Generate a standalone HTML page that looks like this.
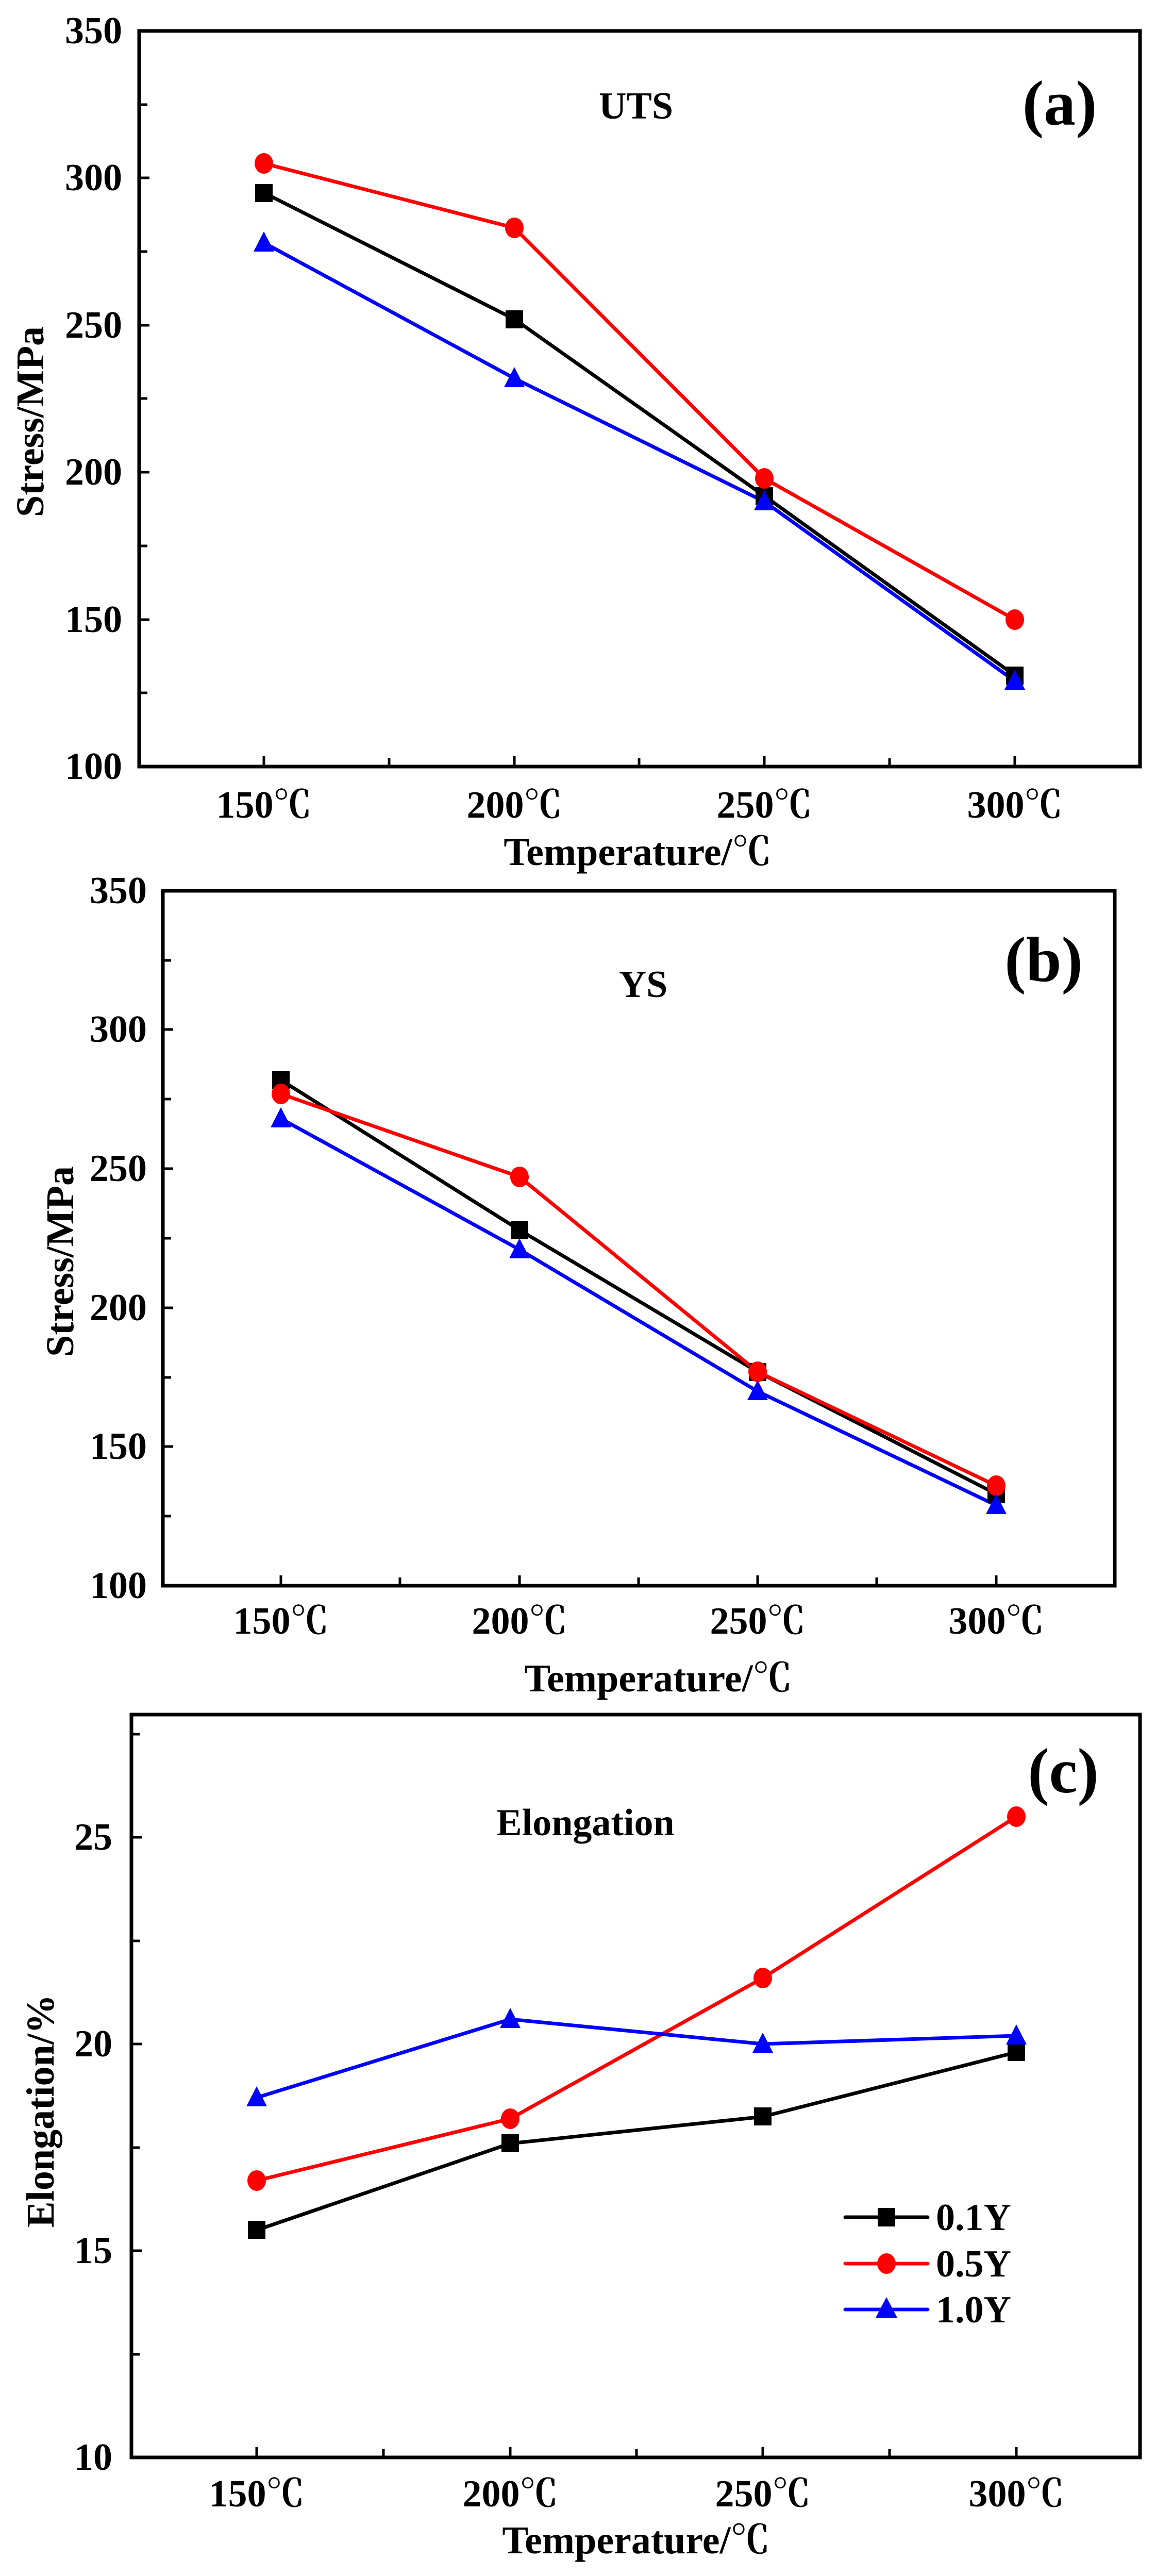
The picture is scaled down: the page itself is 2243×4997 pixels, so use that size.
<!DOCTYPE html>
<html><head><meta charset="utf-8"><style>
html,body{margin:0;padding:0;background:#fff}
svg{display:block}
text{font-family:"Liberation Serif","Noto Serif CJK SC",serif;font-weight:bold;fill:#000}
.t{font-size:74px}
.l{font-size:76px}
.p{font-size:124px}
</style></head><body>
<svg width="2243" height="4997" viewBox="0 0 2243 4997" xmlns="http://www.w3.org/2000/svg">
<!-- Panel (a) -->
<g>
<polyline points="512,374 998,619 1483,962 1969,1310" fill="none" stroke="#000" stroke-width="7"/>
<polyline points="512,317 998,442 1483,928 1969,1202" fill="none" stroke="#f00" stroke-width="7"/>
<polyline points="512,471 998,734 1483,973 1969,1321" fill="none" stroke="#00f" stroke-width="7"/>
<g fill="#000"><rect x="495" y="357" width="34" height="35"/><rect x="981" y="602" width="34" height="35"/><rect x="1466" y="945" width="34" height="35"/><rect x="1952" y="1293" width="34" height="35"/></g>
<g fill="#f00"><ellipse cx="512" cy="317" rx="18" ry="20"/><ellipse cx="998" cy="442" rx="18" ry="20"/><ellipse cx="1483" cy="928" rx="18" ry="20"/><ellipse cx="1969" cy="1202" rx="18" ry="20"/></g>
<g fill="#00f"><polygon points="512,449 492,488 532,488"/><polygon points="998,712 978,751 1018,751"/><polygon points="1483,951 1463,990 1503,990"/><polygon points="1969,1299 1949,1338 1989,1338"/></g>
<rect x="270" y="60" width="1942" height="1427" fill="none" stroke="#000" stroke-width="7"/>
<g stroke="#000" stroke-width="5">
<line x1="270" y1="1202" x2="290" y2="1202"/><line x1="270" y1="916" x2="290" y2="916"/><line x1="270" y1="631" x2="290" y2="631"/><line x1="270" y1="345" x2="290" y2="345"/>
<line x1="270" y1="1344" x2="286" y2="1344"/><line x1="270" y1="1059" x2="286" y2="1059"/><line x1="270" y1="773" x2="286" y2="773"/><line x1="270" y1="488" x2="286" y2="488"/><line x1="270" y1="203" x2="286" y2="203"/>
<line x1="512" y1="1487" x2="512" y2="1467"/><line x1="998" y1="1487" x2="998" y2="1467"/><line x1="1483" y1="1487" x2="1483" y2="1467"/><line x1="1969" y1="1487" x2="1969" y2="1467"/>
<line x1="755" y1="1487" x2="755" y2="1471"/><line x1="1240" y1="1487" x2="1240" y2="1471"/><line x1="1726" y1="1487" x2="1726" y2="1471"/>
</g>
<g class="t" text-anchor="end"><text x="237" y="1511">100</text><text x="237" y="1226">150</text><text x="237" y="940">200</text><text x="237" y="655">250</text><text x="237" y="369">300</text><text x="237" y="84">350</text></g>
<g class="t" text-anchor="middle"><text x="512" y="1586">150℃</text><text x="998" y="1586">200℃</text><text x="1483" y="1586">250℃</text><text x="1969" y="1586">300℃</text></g>
<text class="l" x="1237" y="1678" text-anchor="middle">Temperature/℃</text>
<text class="l" transform="translate(84,818) rotate(-90)" text-anchor="middle">Stress/MPa</text>
<text class="t" x="1234" y="230" text-anchor="middle">UTS</text>
<text class="p" x="2056" y="242" text-anchor="middle">(a)</text>
</g>
<!-- Panel (b) -->
<g>
<polyline points="545,2095 1008,2386 1470,2661 1933,2898" fill="none" stroke="#000" stroke-width="7"/>
<polyline points="545,2122 1008,2283 1470,2661 1933,2882" fill="none" stroke="#f00" stroke-width="7"/>
<polyline points="545,2170 1008,2424 1470,2699 1933,2920" fill="none" stroke="#00f" stroke-width="7"/>
<g fill="#000"><rect x="528" y="2078" width="34" height="35"/><rect x="991" y="2369" width="34" height="35"/><rect x="1453" y="2644" width="34" height="35"/><rect x="1916" y="2881" width="34" height="35"/></g>
<g fill="#f00"><ellipse cx="545" cy="2122" rx="18" ry="20"/><ellipse cx="1008" cy="2283" rx="18" ry="20"/><ellipse cx="1470" cy="2661" rx="18" ry="20"/><ellipse cx="1933" cy="2882" rx="18" ry="20"/></g>
<g fill="#00f"><polygon points="545,2148 525,2187 565,2187"/><polygon points="1008,2402 988,2441 1028,2441"/><polygon points="1470,2677 1450,2716 1490,2716"/><polygon points="1933,2898 1913,2937 1953,2937"/></g>
<rect x="316" y="1728" width="1847" height="1348" fill="none" stroke="#000" stroke-width="7"/>
<g stroke="#000" stroke-width="5">
<line x1="316" y1="2806" x2="336" y2="2806"/><line x1="316" y1="2537" x2="336" y2="2537"/><line x1="316" y1="2267" x2="336" y2="2267"/><line x1="316" y1="1997" x2="336" y2="1997"/>
<line x1="316" y1="2941" x2="332" y2="2941"/><line x1="316" y1="2672" x2="332" y2="2672"/><line x1="316" y1="2402" x2="332" y2="2402"/><line x1="316" y1="2132" x2="332" y2="2132"/><line x1="316" y1="1863" x2="332" y2="1863"/>
<line x1="545" y1="3076" x2="545" y2="3056"/><line x1="1008" y1="3076" x2="1008" y2="3056"/><line x1="1470" y1="3076" x2="1470" y2="3056"/><line x1="1933" y1="3076" x2="1933" y2="3056"/>
<line x1="776" y1="3076" x2="776" y2="3060"/><line x1="1239" y1="3076" x2="1239" y2="3060"/><line x1="1701" y1="3076" x2="1701" y2="3060"/>
</g>
<g class="t" text-anchor="end"><text x="285" y="3100">100</text><text x="285" y="2830">150</text><text x="285" y="2561">200</text><text x="285" y="2291">250</text><text x="285" y="2021">300</text><text x="285" y="1752">350</text></g>
<g class="t" text-anchor="middle"><text x="545" y="3169">150℃</text><text x="1008" y="3169">200℃</text><text x="1470" y="3169">250℃</text><text x="1933" y="3169">300℃</text></g>
<text class="l" x="1277" y="3281" text-anchor="middle">Temperature/℃</text>
<text class="l" transform="translate(142,2447) rotate(-90)" text-anchor="middle">Stress/MPa</text>
<text class="t" x="1248" y="1934" text-anchor="middle">YS</text>
<text class="p" x="2025" y="1903" text-anchor="middle">(b)</text>
</g>
<!-- Panel (c) -->
<g>
<polyline points="498,4326 990,4158 1480,4106 1972,3981" fill="none" stroke="#000" stroke-width="7"/>
<polyline points="498,4230 990,4110 1480,3837 1972,3524" fill="none" stroke="#f00" stroke-width="7"/>
<polyline points="498,4069 990,3917 1480,3965 1972,3949" fill="none" stroke="#00f" stroke-width="7"/>
<g fill="#000"><rect x="481" y="4308" width="34" height="35"/><rect x="973" y="4140" width="34" height="35"/><rect x="1463" y="4088" width="34" height="35"/><rect x="1955" y="3963" width="34" height="35"/></g>
<g fill="#f00"><ellipse cx="498" cy="4230" rx="18" ry="20"/><ellipse cx="990" cy="4110" rx="18" ry="20"/><ellipse cx="1480" cy="3837" rx="18" ry="20"/><ellipse cx="1972" cy="3524" rx="18" ry="20"/></g>
<g fill="#00f"><polygon points="498,4047 478,4086 518,4086"/><polygon points="990,3895 970,3934 1010,3934"/><polygon points="1480,3943 1460,3982 1500,3982"/><polygon points="1972,3927 1952,3966 1992,3966"/></g>
<rect x="255" y="3326" width="1957" height="1441" fill="none" stroke="#000" stroke-width="7"/>
<g stroke="#000" stroke-width="5">
<line x1="255" y1="4366" x2="275" y2="4366"/><line x1="255" y1="3965" x2="275" y2="3965"/><line x1="255" y1="3564" x2="275" y2="3564"/>
<line x1="255" y1="4567" x2="271" y2="4567"/><line x1="255" y1="4166" x2="271" y2="4166"/><line x1="255" y1="3765" x2="271" y2="3765"/><line x1="255" y1="3364" x2="271" y2="3364"/>
<line x1="498" y1="4767" x2="498" y2="4747"/><line x1="990" y1="4767" x2="990" y2="4747"/><line x1="1480" y1="4767" x2="1480" y2="4747"/><line x1="1972" y1="4767" x2="1972" y2="4747"/>
<line x1="744" y1="4767" x2="744" y2="4751"/><line x1="1235" y1="4767" x2="1235" y2="4751"/><line x1="1726" y1="4767" x2="1726" y2="4751"/>
</g>
<g class="t" text-anchor="end"><text x="218" y="4791">10</text><text x="218" y="4390">15</text><text x="218" y="3989">20</text><text x="218" y="3588">25</text></g>
<g class="t" text-anchor="middle"><text x="498" y="4862">150℃</text><text x="990" y="4862">200℃</text><text x="1480" y="4862">250℃</text><text x="1972" y="4862">300℃</text></g>
<text class="l" x="1234" y="4953" text-anchor="middle">Temperature/℃</text>
<text class="l" transform="translate(104,4095) rotate(-90)" text-anchor="middle">Elongation/%</text>
<text class="t" x="1136" y="3560" text-anchor="middle">Elongation</text>
<text class="p" x="2063" y="3477" text-anchor="middle">(c)</text>
<!-- legend -->
<line x1="1640" y1="4301" x2="1800" y2="4301" stroke="#000" stroke-width="7" stroke-linecap="round"/>
<rect x="1703" y="4283" width="34" height="36" fill="#000"/>
<line x1="1640" y1="4391" x2="1800" y2="4391" stroke="#f00" stroke-width="7" stroke-linecap="round"/>
<ellipse cx="1720" cy="4391" rx="18" ry="20" fill="#f00"/>
<line x1="1640" y1="4480" x2="1800" y2="4480" stroke="#00f" stroke-width="7" stroke-linecap="round"/>
<polygon points="1720,4456 1699,4496 1741,4496" fill="#00f"/>
<g class="t"><text x="1816" y="4326">0.1Y</text><text x="1816" y="4416">0.5Y</text><text x="1816" y="4505">1.0Y</text></g>
</g>
</svg>
</body></html>
